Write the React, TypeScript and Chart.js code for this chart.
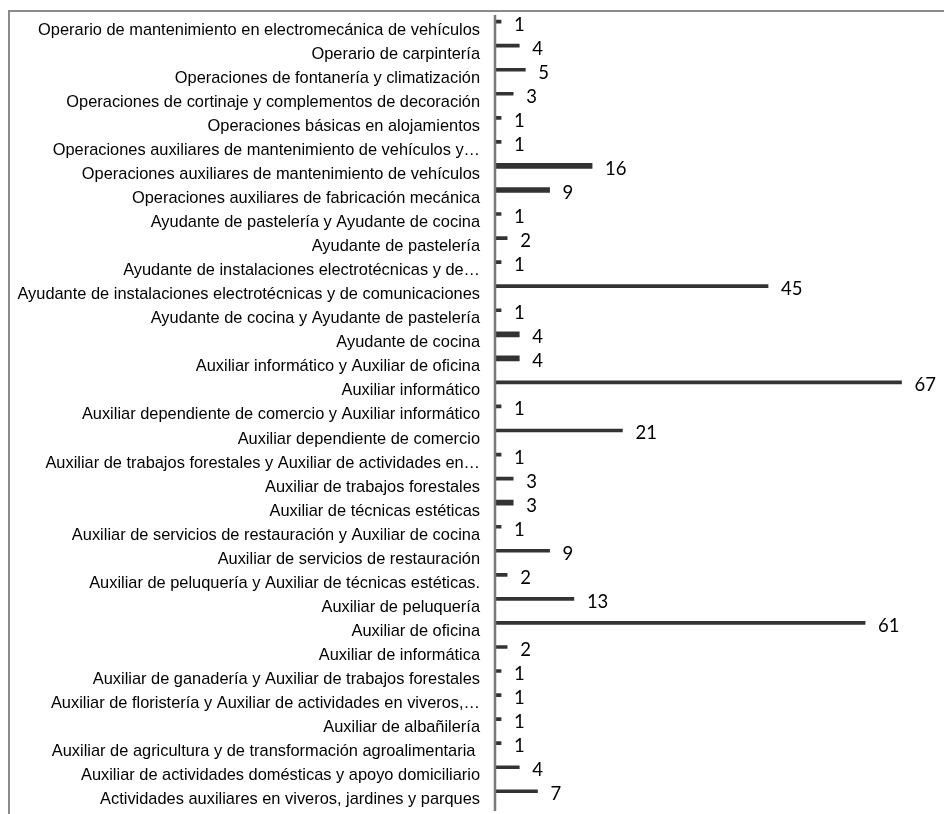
import React, { useEffect, useRef } from "react";
import { Chart, registerables } from "chart.js";

Chart.register(...registerables);

const categories: string[] = [
  "Operario de mantenimiento en electromecánica de vehículos",
  "Operario de carpintería",
  "Operaciones de fontanería y climatización",
  "Operaciones de cortinaje y complementos de decoración",
  "Operaciones básicas en alojamientos",
  "Operaciones auxiliares de mantenimiento de vehículos y…",
  "Operaciones auxiliares de mantenimiento de vehículos",
  "Operaciones auxiliares de fabricación mecánica",
  "Ayudante de pastelería y Ayudante de cocina",
  "Ayudante de pastelería",
  "Ayudante de instalaciones electrotécnicas y de…",
  "Ayudante de instalaciones electrotécnicas y de comunicaciones",
  "Ayudante de cocina y Ayudante de pastelería",
  "Ayudante de cocina",
  "Auxiliar informático y Auxiliar de oficina",
  "Auxiliar informático",
  "Auxiliar dependiente de comercio y Auxiliar informático",
  "Auxiliar dependiente de comercio",
  "Auxiliar de trabajos forestales y Auxiliar de actividades en…",
  "Auxiliar de trabajos forestales",
  "Auxiliar de técnicas estéticas",
  "Auxiliar de servicios de restauración y Auxiliar de cocina",
  "Auxiliar de servicios de restauración",
  "Auxiliar de peluquería y Auxiliar de técnicas estéticas.",
  "Auxiliar de peluquería",
  "Auxiliar de oficina",
  "Auxiliar de informática",
  "Auxiliar de ganadería y Auxiliar de trabajos forestales",
  "Auxiliar de floristería y Auxiliar de actividades en viveros,…",
  "Auxiliar de albañilería",
  "Auxiliar de agricultura y de transformación agroalimentaria ",
  "Auxiliar de actividades domésticas y apoyo domiciliario",
  "Actividades auxiliares en viveros, jardines y parques",
];

const values: number[] = [
  1, 4, 5, 3, 1, 1, 16, 9, 1, 2, 1, 45, 1, 4, 4, 67, 1, 21, 1, 3, 3, 1, 9, 2,
  13, 61, 2, 1, 1, 1, 1, 4, 7,
];

// categories drawn with a heavier bar in the reference
const thickCategories: string[] = [
  "Operaciones auxiliares de mantenimiento de vehículos",
  "Operaciones auxiliares de fabricación mecánica",
  "Ayudante de cocina",
  "Auxiliar informático y Auxiliar de oficina",
  "Auxiliar de técnicas estéticas",
];

const xMax = 74;

export default function App() {
  const ref = useRef<HTMLCanvasElement>(null);

  useEffect(() => {
    if (!ref.current) return;
    const thinData = values.map((v, i) =>
      thickCategories.includes(categories[i]) ? null : v
    );
    const thickData = values.map((v, i) =>
      thickCategories.includes(categories[i]) ? v : null
    );

    const labelPlugin = {
      id: "valueLabels",
      afterDatasetsDraw(chart: any) {
        const ctx = chart.ctx;
        ctx.save();
        // axis line
        ctx.strokeStyle = "#7a7a7a";
        ctx.lineWidth = 2.5;
        ctx.beginPath();
        ctx.moveTo(chart.chartArea.left, 15);
        ctx.lineTo(chart.chartArea.left, 811);
        ctx.stroke();
        ctx.font = "18.5px Lato";
        ctx.fillStyle = "#000";
        ctx.textAlign = "left";
        ctx.textBaseline = "middle";
        chart.data.datasets.forEach((ds: any, di: number) => {
          const meta = chart.getDatasetMeta(di);
          meta.data.forEach((el: any, i: number) => {
            const v = ds.data[i];
            if (v === null || v === undefined) return;
            ctx.fillText(String(v), el.x + 13, el.y + 3);
          });
        });
        ctx.restore();
      },
    };

    const chart = new Chart(ref.current, {
      type: "bar",
      data: {
        labels: categories,
        datasets: [
          {
            data: thinData,
            backgroundColor: "#333333",
            barThickness: 3,
            grouped: false,
          } as any,
          {
            data: thickData,
            backgroundColor: "#333333",
            barThickness: 5,
            grouped: false,
          } as any,
        ],
      },
      options: {
        indexAxis: "y",
        animation: false,
        responsive: false,
        maintainAspectRatio: false,
        layout: { padding: { top: 9.6, bottom: 10.7, left: 0, right: 0 } },
        plugins: {
          legend: { display: false },
          tooltip: { enabled: false },
        },
        scales: {
          x: {
            display: false,
            min: 0,
            max: xMax,
          },
          y: {
            afterFit: (scale: any) => {
              scale.width = 495;
              scale.paddingTop = 0;
              scale.paddingBottom = 0;
            },
            grid: { display: false, drawTicks: false },
            border: { display: false },
            ticks: {
              autoSkip: false,
              padding: 15,
              labelOffset: 8.5,
              color: "#000",
              font: { family: "'Liberation Sans', Arial, sans-serif", size: 16.4 },
            },
          },
        },
      },
      plugins: [labelPlugin],
    });
    return () => chart.destroy();
  }, []);

  return (
    <div style={{ position: "absolute", left: 0, top: 0, width: 944, height: 814, overflow: "hidden", background: "#fff" }}>
      <div
        style={{
          position: "absolute",
          left: 8,
          top: 10,
          width: 1000,
          height: 1000,
          borderTop: "2px solid #8a8a8a",
          borderLeft: "2px solid #8a8a8a",
        }}
      />
      <canvas
        ref={ref}
        width={944}
        height={814}
        style={{ position: "absolute", left: 0, top: 0 }}
      />
    </div>
  );
}
